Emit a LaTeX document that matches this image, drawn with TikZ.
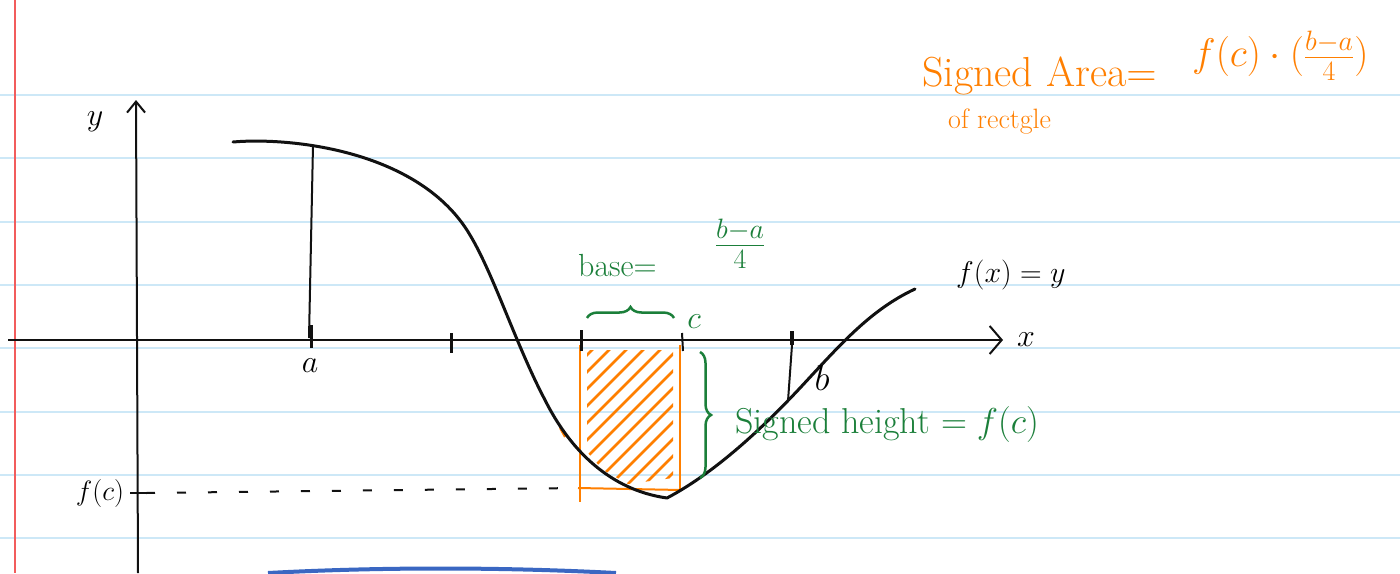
\RequirePackage{fix-cm}
\documentclass[tikz,border=0pt]{standalone}
\usetikzlibrary{arrows.meta,decorations.pathreplacing}
\definecolor{rulec}{HTML}{CDE8F7}
\definecolor{marginc}{HTML}{F25C5C}
\definecolor{ink}{HTML}{111111}
\definecolor{orng}{HTML}{FF7F00}
\definecolor{grn}{HTML}{1B7F3A}
\definecolor{bluepen}{HTML}{3A67C2}
\tikzset{
  ruleline/.style={rulec, line width=1.8pt},
  axisline/.style={ink, line width=2pt},
  curveline/.style={ink, line width=3pt, line cap=round, line join=round},
  tickmark/.style={ink, line width=3pt},
  thinline/.style={ink, line width=2pt},
  orangeline/.style={orng, line width=2pt},
  hatchline/.style={orng, line width=2.5pt, line cap=round},
  greenbrace/.style={grn, line width=2.5pt, decorate, decoration={brace, amplitude=11pt}},
  lbl/.style={inner sep=0pt},
  bigtxt/.style={font=\fontsize{32}{38}\selectfont},
}
\begin{document}
\begin{tikzpicture}[x=1pt,y=-1pt]
\useasboundingbox[fill=white] (0,0) rectangle (1400,573);
% ruled paper
\foreach \yy in {95,158,222,285,348,412,475,538}
  \draw[ruleline] (0,\yy) -- (1400,\yy);
\draw[marginc, line width=1.8pt] (15,0) -- (15,573);
% bottom blue pen stroke
\draw[bluepen, line width=4pt] (268,573) .. controls (380,567) and (500,567) .. (616,573);

% axes
\coordinate (xs) at (8,340);
\coordinate (xe) at (1003,340);
\coordinate (ys) at (138,573);
\coordinate (ye) at (136,100);
\draw[axisline, -{Straight Barb[length=12pt,width=28pt,line width=2pt]}] (xs) -- (xe);
\draw[axisline, -{Straight Barb[length=11pt,width=18pt,line width=2pt]}] (ys) -- (ye);
\node[lbl, bigtxt] (ylab) at (95,122) {$y$};
\node[lbl, bigtxt] (xlab) at (1026,340) {$x$};

% orange rectangle and hatching
\begin{scope}
  \clip (587,350) -- (673,350) -- (673,478) -- (628,484) -- (603,470) -- (587,452) -- cycle;
  \foreach \c in {925,942,...,1170}
    \draw[hatchline] (560,{\c-560}) -- (700,{\c-700});
\end{scope}
\coordinate (rl1) at (580,345);
\coordinate (rl2) at (580,502);
\coordinate (rr1) at (680,345);
\coordinate (rr2) at (680,492);
\coordinate (rb1) at (578,488);
\coordinate (rb2) at (681,490);
\draw[orangeline] (rl1) -- (rl2);
\draw[orangeline] (rr1) -- (rr2);
\draw[orangeline] (rb1) -- (rb2);
\coordinate (om1) at (560,428);
\coordinate (om2) at (565,437);
\draw[orangeline] (om1) -- (om2);

% the curve
\coordinate (c0) at (233,142);
\coordinate (c1) at (470,235);
\coordinate (c2) at (545,400);
\coordinate (cmin) at (667,498);
\coordinate (c3) at (800,388);
\coordinate (c4) at (915,289);
\draw[curveline] (c0) .. controls (290,137) and (420,150) .. (c1)
  .. controls (494,275) and (516,345) .. (c2)
  .. controls (570,450) and (610,490) .. (cmin)
  .. controls (720,470) and (770,420) .. (c3)
  .. controls (840,345) and (870,310) .. (c4);

% vertical from a, ticks
\coordinate (atop) at (313,145);
\coordinate (abot) at (309,338);
\draw[thinline] (atop) -- (abot);
\coordinate (ta1) at (311,325); \coordinate (ta2) at (311,348);
\draw[tickmark] (ta1) -- (ta2);
\coordinate (t21) at (451,333); \coordinate (t22) at (451,353);
\draw[tickmark] (t21) -- (t22);
\coordinate (t31) at (581,330); \coordinate (t32) at (581,351);
\draw[tickmark] (t31) -- (t32);
\coordinate (tc1) at (682,333); \coordinate (tc2) at (683,351);
\draw[thinline] (tc1) -- (tc2);
\coordinate (tb1) at (792,331); \coordinate (tb2) at (792,345);
\draw[ink, line width=4pt] (tb1) -- (tb2);
\coordinate (bbot) at (788,401);
\draw[thinline] (tb2) -- (bbot);

\node[lbl, bigtxt] (alab) at (310,366) {$a$};
\node[lbl, font=\fontsize{36}{42}\selectfont] (blab) at (822,378) {$b$};
\node[lbl, bigtxt, grn] (clab) at (694,322) {$c$};

% f(c) on y axis, dashed level line
\coordinate (fct1) at (130,493);
\coordinate (fct2) at (146,493);
\draw[thinline] (fct1) -- (fct2);
\draw[ink, line width=2pt, dash pattern=on 9pt off 22pt] (fct2) -- (rb1);
\node[lbl, font=\fontsize{28}{34}\selectfont] (fclab) at (100,493) {$f(c)$};

% function label
\node[lbl, font=\fontsize{30}{36}\selectfont, anchor=base west] (fxlab) at (956,282) {$f(x)=y$};

% green braces and labels
\coordinate (hb1) at (587,318);
\coordinate (hb2) at (674,318);
\draw[greenbrace] (hb1) -- (hb2);
\coordinate (vb1) at (700,352);
\coordinate (vb2) at (700,478);
\draw[greenbrace] (vb1) -- (vb2);
\node[lbl, grn, bigtxt, anchor=base west] (baselab) at (578,276) {base$=$};
\node[lbl, grn, font=\fontsize{40}{46}\selectfont] (basefrac) at (740,244) {$\frac{b-a}{4}$};
\node[lbl, grn, font=\fontsize{36}{42}\selectfont, anchor=base west] (hlab) at (735,433) {Signed height $=f(c)$};

% orange area formula
\node[lbl, orng, font=\fontsize{42}{48}\selectfont, anchor=base west] (arealab) at (922,86) {Signed Area$=$};
\node[lbl, orng, font=\fontsize{40}{46}\selectfont, anchor=west] (areaf) at (1192,56) {$f(c)\cdot\Bigl(\frac{b-a}{4}\Bigr)$};
\node[lbl, orng, font=\fontsize{28}{34}\selectfont, anchor=base west] (oflab) at (948,128) {of rectgle};
\end{tikzpicture}
\end{document}
